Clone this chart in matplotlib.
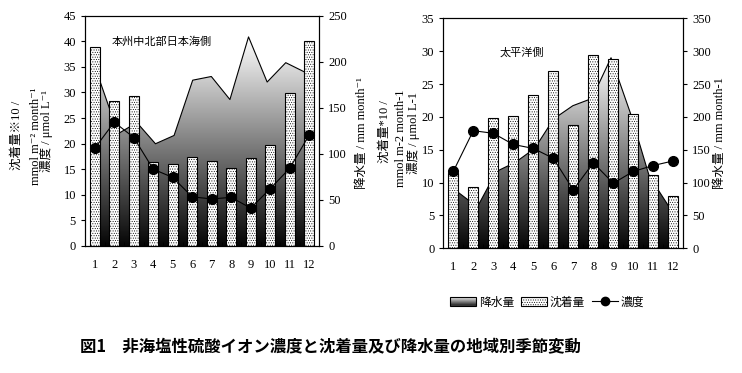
import numpy as np
import matplotlib
matplotlib.use("Agg")
import matplotlib.pyplot as plt
from matplotlib.patches import Rectangle, Polygon
from matplotlib.lines import Line2D
from matplotlib.legend_handler import HandlerBase
from matplotlib.colors import LinearSegmentedColormap

months = list(range(1, 13))
month_labels = [str(m) for m in months]

# 本州中北部日本海側
sea_dep = [38.9, 28.3, 29.4, 16.5, 16.0, 17.4, 16.7, 15.2, 17.1, 19.7, 29.8, 40.0]
sea_conc = [19.1, 24.2, 21.2, 15.0, 13.4, 9.6, 9.2, 9.5, 7.4, 11.2, 15.2, 21.7]
sea_rain = [180, 122, 134, 111, 120, 180, 184, 159, 227, 178, 199, 189]

# 太平洋側
pac_dep = [11.4, 9.3, 19.9, 20.1, 23.3, 27.0, 18.7, 29.4, 28.8, 20.4, 11.2, 7.9]
pac_conc = [11.7, 17.9, 17.5, 15.8, 15.2, 13.7, 8.9, 13.0, 9.9, 11.7, 12.6, 13.3]
pac_rain = [85, 63, 117, 131, 152, 197, 217, 228, 290, 207, 110, 65]

SERIF = ["Liberation Serif", "Noto Sans CJK JP", "DejaVu Serif"]
CJK = ["Noto Sans CJK JP", "DejaVu Sans"]
plt.rcParams["font.family"] = SERIF
plt.rcParams["hatch.linewidth"] = 0.4

gray_cmap = LinearSegmentedColormap.from_list("g", ["#050505", "#ffffff"])
BW = 0.5
HATCH = "......."

fig = plt.figure(figsize=(7.42, 3.73), dpi=100)


def draw_panel(rect, dep, conc, rain, ymax, rmax, title, tpos):
    ax = fig.add_axes(rect)
    ax2 = ax.twinx()
    ax.set_zorder(ax2.get_zorder() + 1)
    ax.patch.set_visible(False)

    # precipitation area, gradient filled (secondary axis)
    rx = np.linspace(1 + BW / 2, 12 - BW / 2, len(rain))
    verts = [(rx[0], 0)] + list(zip(rx, rain)) + [(rx[-1], 0)]
    poly = Polygon(verts, closed=True, facecolor="none", edgecolor="none")
    ax2.add_patch(poly)
    grad = np.linspace(0, 1, 256).reshape(-1, 1)
    img = ax2.imshow(grad, extent=[rx[0], rx[-1], 0, max(rain)], aspect="auto",
                     cmap=gray_cmap, origin="lower", zorder=1)
    img.set_clip_path(poly)
    ax2.plot(rx, rain, color="black", lw=0.8, zorder=2)

    # deposition bars + concentration line
    ax.bar(months, dep, width=BW, facecolor="white", edgecolor="black",
           hatch=HATCH, lw=0.8, zorder=2)
    ax.plot(months, conc, "-o", color="black", ms=7, lw=0.8, zorder=3)

    ax.set_xlim(0.5, 12.5)
    ax.set_ylim(0, ymax)
    ax2.set_xlim(0.5, 12.5)
    ax2.set_ylim(0, rmax)
    ax.set_xticks(months, month_labels)
    ax.set_xticks(np.arange(0.5, 13, 1), minor=True)
    ax.tick_params(axis="x", which="major", length=0, pad=9, labelsize=9)
    ax.tick_params(axis="x", which="minor", direction="in", length=3)
    ax.set_yticks(np.arange(0, ymax + 1, 5))
    ax.tick_params(axis="y", direction="out", length=3, labelsize=9)
    ax2.set_yticks(np.arange(0, rmax + 1, 50))
    ax2.tick_params(axis="y", direction="out", length=3, labelsize=9)
    ax.text(tpos[0], tpos[1], title, transform=ax.transAxes, family=CJK,
            fontsize=8, ha="left", va="center", zorder=5)
    return ax


def px(x, y):
    return x / 742, 1 - y / 373


draw_panel([85 / 742, 1 - 246 / 373, 234 / 742, 230.3 / 373],
           sea_dep, sea_conc, sea_rain, 45, 250, "本州中北部日本海側", (0.115, 0.886))
draw_panel([443.3 / 742, 1 - 248.3 / 373, 240 / 742, 230 / 373],
           pac_dep, pac_conc, pac_rain, 35, 350, "太平洋側", (0.236, 0.853))

# axis titles (the two lower lines sit very close together in the original)
lab = dict(rotation=90, ha="center", va="center", fontsize=9, family=SERIF)
fig.text(*px(17, 135), "沈着量※10 /", **lab)
fig.text(*px(36, 136), "mmol m⁻² month⁻¹", **lab)
fig.text(*px(47, 131), "濃度 / μmol L⁻¹", **lab)
fig.text(*px(362, 133), "降水量 / mm month⁻¹", **lab)
fig.text(*px(385, 132), "沈着量*10 /", **lab)
fig.text(*px(401, 138), "mmol m-2 month-1", **lab)
fig.text(*px(414, 133), "濃度 / μmol L-1", **lab)
fig.text(*px(720, 133), "降水量 / mm month-1", **lab)


class GradHandler(HandlerBase):
    def create_artists(self, legend, orig_handle, xdescent, ydescent,
                       width, height, fontsize, trans):
        arts = []
        n = 8
        for i in range(n):
            c = gray_cmap(0.2 + 0.7 * i / (n - 1))
            arts.append(Rectangle((-xdescent, -ydescent + height * i / n), width,
                                  height / n, facecolor=c, edgecolor="none",
                                  transform=trans))
        arts.append(Rectangle((-xdescent, -ydescent), width, height, fill=False,
                              edgecolor="black", lw=0.8, transform=trans))
        return arts


h_rain = Rectangle((0, 0), 1, 1)
h_dep = Rectangle((0, 0), 1, 1, facecolor="white", edgecolor="black",
                  hatch=HATCH, lw=0.8)
h_conc = Line2D([], [], color="black", marker="o", ms=6, lw=0.8)
fig.legend([h_rain, h_dep, h_conc], ["降水量", "沈着量", "濃度"],
           handler_map={h_rain: GradHandler()}, loc="center",
           bbox_to_anchor=px(547, 302), ncol=3, frameon=False,
           prop={"family": CJK, "size": 8.5}, handlelength=2.2,
           columnspacing=0.6, handletextpad=0.2)

fig.text(*px(80, 347), "図1　非海塩性硫酸イオン濃度と沈着量及び降水量の地域別季節変動",
         family=CJK, fontsize=11.8, fontweight="bold", ha="left", va="center")

fig.savefig("out.png", dpi=100)
